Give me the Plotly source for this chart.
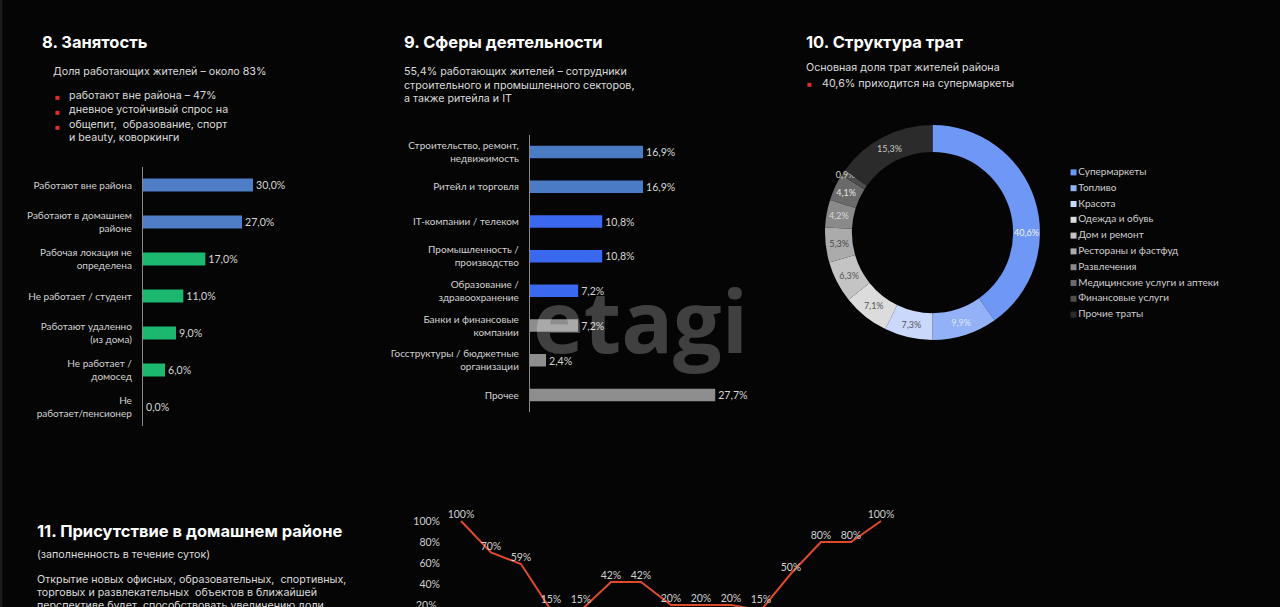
import plotly.graph_objects as go

W, H = 1280, 607

# ---------------- DATA ----------------
emp_labels = ["Работают вне района", "Работают в домашнем<br>районе", "Рабочая локация не<br>определена",
              "Не работает / студент", "Работают удаленно<br>(из дома)", "Не работает /<br>домосед",
              "Не<br>работает/пенсионер"]
emp_values = [30.0, 27.0, 17.0, 11.0, 9.0, 6.0, 0.0]
emp_colors = ["#4F7EC6", "#4F7EC6", "#1DB870", "#1DB870", "#1DB870", "#1DB870", "#1DB870"]

sec_labels = ["Строительство, ремонт,<br>недвижимость", "Ритейл и торговля", "IT-компании / телеком",
              "Промышленность /<br>производство", "Образование /<br>здравоохранение",
              "Банки и финансовые<br>компании", "Госструктуры / бюджетные<br>организации", "Прочее"]
sec_values = [16.9, 16.9, 10.8, 10.8, 7.2, 7.2, 2.4, 27.7]
sec_colors = ["#4A7BC4", "#4A7BC4", "#3A68EE", "#3A68EE", "#3A68EE", "#8E8E8E", "#8E8E8E", "#8E8E8E"]

spend_labels = ["Супермаркеты", "Топливо", "Красота", "Одежда и обувь", "Дом и ремонт",
                "Рестораны и фастфуд", "Развлечения", "Медицинские услуги и аптеки",
                "Финансовые услуги", "Прочие траты"]
spend_values = [40.6, 9.9, 7.3, 7.1, 6.3, 5.3, 4.2, 4.1, 0.9, 15.3]
spend_colors = ["#6F97F5", "#93B1F7", "#C9D8FB", "#DCDCDC", "#C4C4C4", "#ABABAB",
                "#8A8A8A", "#6A6A6A", "#4E4E4E", "#2B2B2B"]
spend_text_colors = ["#F2F2F2", "#DDE6FB", "#555555", "#555555", "#555555", "#4A4A4A",
                     "#D8D8D8", "#E6E6E6", "#D0D0D0", "#C8C8C8"]

pres_values = [100, 70, 59, 15, 15, 42, 42, 20, 20, 20, 15, 50, 80, 80, 100]
pres_ticks = [20, 40, 60, 80, 100]


def fmt(v):
    return f"{v:.1f}".replace(".", ",") + "%"


def px_x(x):
    return x / W


def px_y(y):
    return 1 - y / H


fig = go.Figure()

LBL = dict(family="Lato, 'Open Sans', sans-serif", size=10, color="#D2D2D2")
VAL = dict(family="Lato, 'Open Sans', sans-serif", size=11, color="#D6D6D6")
TICK3 = dict(family="Lato, 'Open Sans', sans-serif", size=10.5, color="#CFCFCF")

# ---------------- Chart 8: employment ----------------
fig.add_trace(go.Bar(
    y=list(range(len(emp_values))), x=emp_values, orientation="h",
    marker=dict(color=emp_colors, line=dict(width=0)), width=0.35,
    text=[fmt(v) for v in emp_values], textposition="outside", textfont=VAL,
    cliponaxis=False, xaxis="x", yaxis="y", showlegend=False, hoverinfo="skip"))

# ---------------- Chart 9: sectors ----------------
fig.add_trace(go.Bar(
    y=list(range(len(sec_values))), x=sec_values, orientation="h",
    marker=dict(color=sec_colors, line=dict(width=0)), width=0.36,
    text=[fmt(v) for v in sec_values], textposition="outside", textfont=VAL,
    cliponaxis=False, xaxis="x2", yaxis="y2", showlegend=False, hoverinfo="skip"))

# ---------------- Chart 10: donut ----------------
fig.add_trace(go.Pie(
    labels=spend_labels, values=spend_values, text=[fmt(v) for v in spend_values],
    texttemplate="%{text}", textposition="inside", insidetextorientation="horizontal",
    textfont=dict(family="Lato, 'Open Sans', sans-serif", size=9, color=spend_text_colors),
    marker=dict(colors=spend_colors, line=dict(width=0)),
    hole=0.75, sort=False, direction="clockwise", rotation=0,
    domain=dict(x=[px_x(825), px_x(1040)], y=[px_y(340), px_y(125)]),
    showlegend=False, hoverinfo="skip"))

# legend for donut, drawn as a scatter on its own axes
fig.add_trace(go.Scatter(
    x=[0] * len(spend_labels), y=list(range(len(spend_labels))), mode="markers+text",
    marker=dict(symbol="square", size=6, color=spend_colors, line=dict(width=0)),
    text=spend_labels, textposition="middle right",
    textfont=dict(family="Lato, 'Open Sans', sans-serif", size=10, color="#CFCFCF"),
    cliponaxis=False, xaxis="x4", yaxis="y4", showlegend=False, hoverinfo="skip"))

# ---------------- Chart 11: presence line ----------------
y_lo = 20 - 2 / 1.05
y_hi = 100 + 16 / 1.05
fig.add_trace(go.Scatter(
    x=list(range(len(pres_values))), y=pres_values, mode="lines",
    line=dict(color="#E04A2B", width=2),
    xaxis="x3", yaxis="y3", showlegend=False, hoverinfo="skip"))
# value labels (points below the visible window are pinned to its lower edge)
fig.add_trace(go.Scatter(
    x=list(range(len(pres_values))), y=[max(v, y_lo + 1.5) for v in pres_values], mode="text",
    text=[f"{v}%" for v in pres_values], textposition="top center",
    textfont=dict(family="Lato, 'Open Sans', sans-serif", size=10.5, color="#D0D0D0"),
    cliponaxis=False, xaxis="x3", yaxis="y3", showlegend=False, hoverinfo="skip"))

hidden = dict(visible=False, showgrid=False, zeroline=False)

fig.update_layout(
    width=W, height=H, margin=dict(l=0, r=0, t=0, b=0),
    paper_bgcolor="#050505", plot_bgcolor="rgba(0,0,0,0)",
    uniformtext=dict(minsize=9, mode="show"),
    bargap=0.6,
    xaxis=dict(domain=[px_x(143), px_x(143 + 40 * 110 / 30)], range=[0, 40], **hidden),
    yaxis=dict(domain=[px_y(425.5), px_y(166.5)], range=[6.5, -0.5],
               tickvals=list(range(len(emp_labels))), ticktext=emp_labels,
               showline=True, linecolor="#8A8A8A", linewidth=1.2,
               ticks="outside", ticklen=8, tickcolor="rgba(0,0,0,0)",
               showgrid=False, zeroline=False, tickfont=LBL, anchor="x"),
    xaxis2=dict(domain=[px_x(530), px_x(530 + 35 * 113 / 16.9)], range=[0, 35], anchor="y2", **hidden),
    yaxis2=dict(domain=[px_y(412.4), px_y(134.6)], range=[7.5, -0.5],
                tickvals=list(range(len(sec_labels))), ticktext=sec_labels,
                showline=True, linecolor="#8A8A8A", linewidth=1.2,
                ticks="outside", ticklen=8, tickcolor="rgba(0,0,0,0)",
                showgrid=False, zeroline=False, tickfont=LBL, anchor="x2"),
    xaxis3=dict(domain=[px_x(441), px_x(905)], range=[(441 - 461) / 30, (905 - 461) / 30],
                anchor="y3", **hidden),
    yaxis3=dict(domain=[0, px_y(505)], range=[y_lo, y_hi],
                tickvals=pres_ticks, ticktext=[f"{t}%" for t in pres_ticks],
                showgrid=False, zeroline=False, showline=False, ticks="",
                tickfont=TICK3, anchor="x3"),
    xaxis4=dict(domain=[px_x(1070), px_x(1250)], range=[-0.02, 1], anchor="y4", **hidden),
    yaxis4=dict(domain=[px_y(322.5), px_y(164.5)], range=[9.5, -0.5], anchor="x4", **hidden),
)

# lowest tick label of chart 11 sits on the page edge: drawn at its axis value so it is clipped, not hidden
fig.add_annotation(x=px_x(439), y=pres_ticks[0], xref="paper", yref="y3", text=f"{pres_ticks[0]}%",
                   showarrow=False, xanchor="right", yanchor="middle", font=TICK3)

# ---------------- Text blocks ----------------
TITLE = dict(family="Inter, 'Open Sans', sans-serif", size=16.5, color="#FFFFFF")
BODY = dict(family="Inter, 'Open Sans', sans-serif", size=10.7, color="#DADADA")


def txt(x, y, s, font, xanchor="left"):
    fig.add_annotation(x=px_x(x - 2), y=px_y(y), xref="paper", yref="paper", text=s,
                       showarrow=False, xanchor=xanchor, yanchor="middle", font=font)


def bullet(x, y):
    fig.add_annotation(x=px_x(x), y=px_y(y), xref="paper", yref="paper", text="■",
                       showarrow=False, xanchor="center", yanchor="middle",
                       font=dict(size=8, color="#D93030"))


txt(42, 42, "<b>8. Занятость</b>", TITLE)
txt(53, 71, "Доля работающих жителей – около 83%", BODY)
for yy in (97, 112, 127):
    bullet(57, yy)
txt(69, 95, "работают вне района – 47%", BODY)
txt(69, 109, "дневное устойчивый спрос на", BODY)
txt(69, 124, "общепит,  образование, спорт", BODY)
txt(69, 137, "и beauty, коворкинги", BODY)

txt(404, 42, "<b>9. Сферы деятельности</b>", TITLE)
txt(404, 72, "55,4% работающих жителей – сотрудники", BODY)
txt(404, 85, "строительного и промышленного секторов,", BODY)
txt(404, 98, "а также ритейла и IT", BODY)

txt(806, 42, "<b>10. Структура трат</b>", TITLE)
txt(806, 67, "Основная доля трат жителей района", BODY)
bullet(809, 84)
txt(822, 83, "40,6% приходится на супермаркеты", BODY)

txt(37, 531, "<b>11. Присутствие в домашнем районе</b>", TITLE)
txt(37, 554, "(заполненность в течение суток)", BODY)
txt(37, 579, "Открытие новых офисных, образовательных,  спортивных,", BODY)
txt(37, 592, "торговых и развлекательных  объектов в ближайшей", BODY)
txt(37, 605, "перспективе будет  способствовать увеличению доли", BODY)

# watermark
fig.add_annotation(x=px_x(640), y=px_y(319), xref="paper", yref="paper", text="<b>etagi</b>",
                   showarrow=False, xanchor="center", yanchor="middle",
                   font=dict(family="'Open Sans', sans-serif", size=86, color="rgba(255,255,255,0.24)"))

# thin left border
fig.add_shape(type="rect", xref="paper", yref="paper", x0=0, x1=px_x(2.5), y0=0, y1=1,
              line=dict(width=0), fillcolor="#1C1C1C", layer="below")

fig.write_html("out.html")
